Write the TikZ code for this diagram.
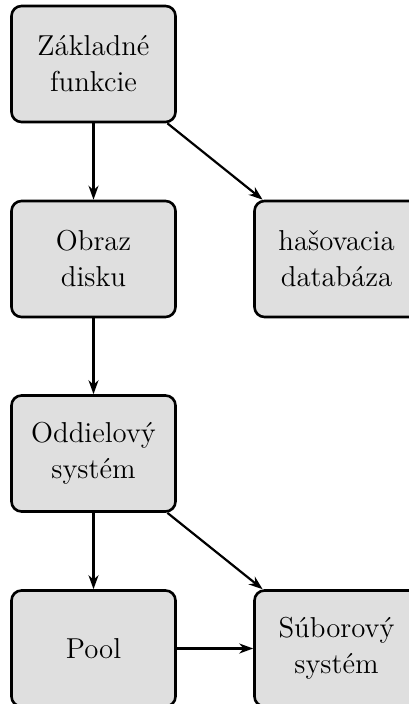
\documentclass[tikz,border=0pt]{standalone}
\usetikzlibrary{arrows.meta}
\begin{document}
\begin{tikzpicture}[x=0.5pt,y=-0.5pt,
  box/.style={draw=black, fill=gray!25, line width=1.3pt, rounded corners=5pt,
    minimum width=82pt, minimum height=58pt, align=center, font=\Large, inner sep=2pt},
  conn/.style={line width=1.1pt, -{Stealth[length=7pt,width=5pt]}}]
\useasboundingbox (0,0) rectangle (408,704);
\node[box] (A) at (93.5,64) {Základné\\funkcie};
\node[box] (B) at (93.5,259) {Obraz\\disku};
\node[box] (C) at (336.5,259) {hašovacia\\databáza};
\node[box] (D) at (93.5,453.5) {Oddielový\\systém};
\node[box] (E) at (93.5,648.5) {Pool};
\node[box] (F) at (336.5,648.5) {Súborový\\systém};
\draw[conn] (A) -- (B);
\draw[conn] (A) -- (C);
\draw[conn] (B) -- (D);
\draw[conn] (D) -- (E);
\draw[conn] (D) -- (F);
\draw[conn] (E) -- (F);
\end{tikzpicture}
\end{document}
